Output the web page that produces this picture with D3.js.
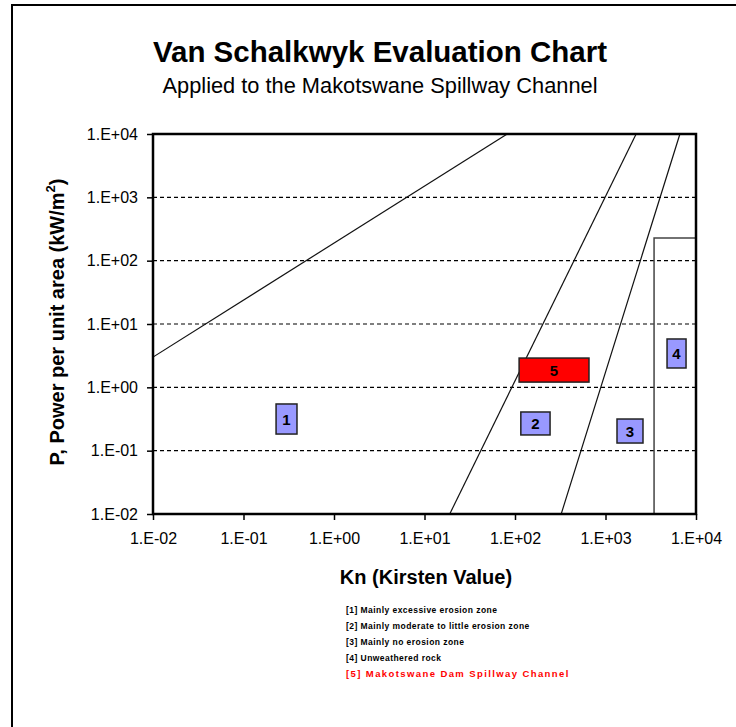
<!DOCTYPE html>
<html>
<head>
<meta charset="utf-8">
<script src="https://cdn.jsdelivr.net/npm/d3@7"></script>
<style>
  html, body { margin: 0; padding: 0; background: #fff; }
  svg { display: block; }
  text { font-family: "Liberation Sans", Arial, sans-serif; }
</style>
</head>
<body>
<svg id="chart" width="736" height="727"></svg>
<script>
// Axis decades (Kirsten value Kn and stream power P both on log scales)
const knTicks = [1e-2, 1e-1, 1e0, 1e1, 1e2, 1e3, 1e4];
const knTickLabels = ["1.E-02", "1.E-01", "1.E+00", "1.E+01", "1.E+02", "1.E+03", "1.E+04"];
const pTicks = [1e-2, 1e-1, 1e0, 1e1, 1e2, 1e3, 1e4];
const pTickLabels = ["1.E-02", "1.E-01", "1.E+00", "1.E+01", "1.E+02", "1.E+03", "1.E+04"];
const pGrid = [1e-1, 1e0, 1e1, 1e2, 1e3];

// Erosion threshold curves, as [Kn, P] end points
const thresholdA = [[0.01, 3], [82, 10000]];
const thresholdB = [[19, 0.01], [2180, 10000]];
const thresholdC = [[324, 0.01], [6640, 10000]];
// Boundary of the unweathered-rock zone
const rockBoundary = [[3440, 0.01], [3440, 229], [10000, 229]];

// Zone labels and the spillway range, as Kn / P extents
const zoneIds   = ["1", "2", "3", "4", "5"];
const zoneKnMin = [0.229, 116, 1340, 4786, 111];
const zoneKnMax = [0.39, 244, 2596, 7762, 657];
const zonePMin  = [0.183, 0.177, 0.132, 2.02, 1.21];
const zonePMax  = [0.546, 0.408, 0.316, 5.8, 2.9];
const zoneFill  = ["#9999ff", "#9999ff", "#9999ff", "#9999ff", "#ff0000"];

const legendLines = [
  "[1] Mainly excessive erosion zone",
  "[2] Mainly moderate to little erosion zone",
  "[3] Mainly no erosion zone",
  "[4] Unweathered rock",
  "[5] Makotswane Dam Spillway Channel"
];
const legendColors = ["#000", "#000", "#000", "#000", "#ff0000"];

const svg = d3.select("#chart");

// outer frame
svg.append("path")
  .attr("d", "M12,727 L12,5 L736,5")
  .attr("fill", "none").attr("stroke", "#000").attr("stroke-width", 2);

const x = d3.scaleLog().domain([1e-2, 1e4]).range([153, 696]);
const y = d3.scaleLog().domain([1e-2, 1e4]).range([514, 134]);

// titles
svg.append("text").attr("x", 380).attr("y", 62).attr("text-anchor", "middle")
  .attr("font-size", 29.5).attr("font-weight", "bold").text("Van Schalkwyk Evaluation Chart");
svg.append("text").attr("x", 380).attr("y", 93).attr("text-anchor", "middle")
  .attr("font-size", 21.8).text("Applied to the Makotswane Spillway Channel");

// dashed gridlines
svg.append("g").selectAll("line").data(pGrid).join("line")
  .attr("x1", x(1e-2)).attr("x2", x(1e4))
  .attr("y1", d => y(d)).attr("y2", d => y(d))
  .attr("stroke", "#000").attr("stroke-width", 1.2).attr("stroke-dasharray", "4,3");

// axes
const xAxis = d3.axisBottom(x).tickValues(knTicks)
  .tickFormat((d, i) => knTickLabels[i]).tickSize(6).tickPadding(9);
const yAxis = d3.axisLeft(y).tickValues(pTicks)
  .tickFormat((d, i) => pTickLabels[i]).tickSize(6).tickPadding(9);

const gx = svg.append("g").attr("transform", `translate(0,${y(1e-2)})`).call(xAxis);
const gy = svg.append("g").attr("transform", `translate(${x(1e-2)},0)`).call(yAxis);
[gx, gy].forEach(g => {
  g.select(".domain").remove();
  g.selectAll(".tick line").attr("stroke", "#000").attr("stroke-width", 1.5);
  g.selectAll(".tick text").attr("fill", "#000").attr("font-size", 16)
    .attr("font-family", "'Liberation Sans', Arial, sans-serif");
});
gx.selectAll(".tick text").attr("dy", "0.95em");

// threshold lines
const line = d3.line().x(d => x(d[0])).y(d => y(d[1]));
svg.append("clipPath").attr("id", "plotClip")
  .append("rect").attr("x", x(1e-2)).attr("y", y(1e4))
  .attr("width", x(1e4) - x(1e-2)).attr("height", y(1e-2) - y(1e4));
const curves = svg.append("g").attr("clip-path", "url(#plotClip)");
[thresholdA, thresholdB, thresholdC].forEach(seg => {
  curves.append("path").attr("d", line(seg)).attr("fill", "none")
    .attr("stroke", "#111").attr("stroke-width", 1.2);
});
curves.append("path").attr("d", line(rockBoundary)).attr("fill", "none")
  .attr("stroke", "#444").attr("stroke-width", 1.5);

// zone label boxes
const zones = svg.append("g");
zoneIds.forEach((id, i) => {
  const x0 = x(zoneKnMin[i]), x1 = x(zoneKnMax[i]);
  const y0 = y(zonePMax[i]), y1 = y(zonePMin[i]);
  zones.append("rect").attr("x", x0).attr("y", y0)
    .attr("width", x1 - x0).attr("height", y1 - y0)
    .attr("fill", zoneFill[i]).attr("stroke", "#222").attr("stroke-width", 1.5);
  zones.append("text").attr("x", (x0 + x1) / 2).attr("y", (y0 + y1) / 2)
    .attr("text-anchor", "middle").attr("dominant-baseline", "central")
    .attr("font-size", 15).attr("font-weight", "bold").text(id);
});

// plot frame
svg.append("rect").attr("x", x(1e-2)).attr("y", y(1e4))
  .attr("width", x(1e4) - x(1e-2)).attr("height", y(1e-2) - y(1e4))
  .attr("fill", "none").attr("stroke", "#000").attr("stroke-width", 2.5);

// axis titles
svg.append("text").attr("x", 426).attr("y", 584).attr("text-anchor", "middle")
  .attr("font-size", 20).attr("font-weight", "bold").text("Kn (Kirsten Value)");
const yt = svg.append("text").attr("transform", "translate(64,322) rotate(-90)")
  .attr("text-anchor", "middle").attr("font-size", 20).attr("font-weight", "bold");
yt.append("tspan").text("P, Power per unit area (kW/m");
yt.append("tspan").attr("font-size", 13).attr("dy", -9).text("2");
yt.append("tspan").attr("dy", 9).text(")");

// legend notes
svg.append("g").selectAll("text").data(legendLines).join("text")
  .attr("x", 346).attr("y", (d, i) => 613 + i * 16)
  .attr("font-size", (d, i) => i === 4 ? 9.5 : 8.5)
  .attr("font-weight", "bold")
  .attr("letter-spacing", (d, i) => i === 4 ? 1.4 : 0.45)
  .attr("fill", (d, i) => legendColors[i]).text(d => d);
</script>
</body>
</html>
